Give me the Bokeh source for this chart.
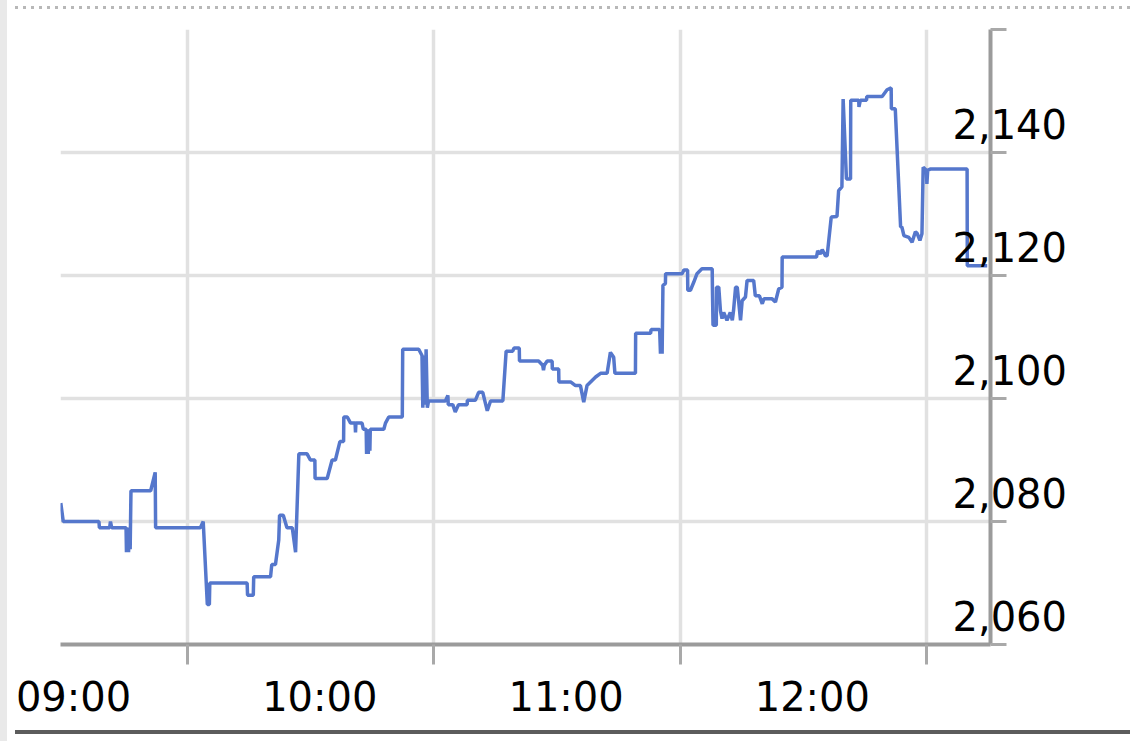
from bokeh.plotting import figure
from bokeh.models import FixedTicker, CustomJSTickFormatter, Div, Range1d
from bokeh.layouts import column, row
from bokeh.embed import file_html
from bokeh.resources import INLINE

# ---- data: minutes after 09:00 and price ----
minutes = [-0.9, -0.3, 8.4, 8.5, 11.0, 11.2, 11.5, 15.0, 15.1, 15.4, 15.6, 15.9, 16.0, 16.2,
           21.0, 22.1, 22.2, 33.1, 33.8, 34.8, 35.3, 35.4, 44.5, 44.6, 46.0, 46.1, 50.2, 50.5,
           51.4, 52.2, 52.4, 53.3, 54.2, 55.5, 56.3, 57.1, 59.1, 59.9, 61.0, 61.05, 64.0, 65.2,
           66.0, 67.1, 68.0, 68.05, 68.9, 69.7, 70.8, 70.9, 71.0, 72.5, 72.8, 73.5, 73.6, 73.9,
           74.0, 74.3, 74.4, 74.5, 77.8, 78.2, 79.0, 82.3, 82.4, 86.3, 87.1, 87.3, 87.5, 87.6,
           87.8, 87.9, 88.1, 88.4, 88.7, 92.8, 93.4, 93.5, 94.6, 95.2, 96.0, 98.1, 98.15, 100.1,
           100.9, 101.9, 103.0, 103.8, 106.8, 107.6, 109.2, 109.5, 110.8, 110.85, 115.5, 116.5,
           116.7, 116.9, 117.6, 118.8, 118.85, 120.4, 120.45, 123.3, 124.5, 125.7, 126.5, 127.3,
           129.4, 130.6, 132.2, 133.0, 133.8, 134.1, 139.1, 139.15, 142.8, 142.9, 145.0, 145.2,
           145.4, 145.6, 145.8, 146.4, 146.45, 150.5, 150.9, 151.8, 151.85, 152.5, 153.3, 154.1,
           155.3, 157.8, 157.85, 158.0, 158.8, 158.85, 159.4, 159.8, 160.2, 160.6, 161.4, 162.2,
           162.7, 163.0, 163.5, 163.9, 164.7, 165.1, 165.9, 166.3, 167.9, 168.3, 169.3, 170.0,
           170.4, 172.4, 173.2, 174.0, 174.8, 174.85, 183.2, 183.5, 184.1, 184.6, 185.4, 185.8,
           186.8, 188.2, 188.6, 189.4, 189.7, 190.5, 191.5, 191.55, 193.5, 193.55, 193.9, 195.4,
           195.45, 199.2, 200.4, 201.4, 201.45, 202.4, 203.7, 204.0, 204.5, 205.7, 206.5, 207.3,
           207.7, 208.4, 208.9, 209.2, 210.0, 210.1, 210.3, 210.9, 219.9, 219.95, 224.8]
price = [2083, 2080, 2080, 2079, 2079, 2080, 2079, 2079, 2075, 2079, 2075, 2079, 2075.5, 2085,
         2085, 2088, 2079, 2079, 2080, 2066.5, 2066.5, 2070, 2070, 2068, 2068, 2071, 2071, 2073,
         2073, 2077, 2081, 2081, 2079, 2079, 2075, 2091, 2091, 2090, 2090, 2087, 2087, 2090,
         2090, 2093, 2093, 2097, 2097, 2096, 2096, 2094.5, 2096, 2096, 2095, 2095, 2091, 2095,
         2091, 2095, 2091.5, 2095, 2095, 2096, 2097, 2097, 2108, 2108, 2107, 2098.5, 2106, 2099,
         2107, 2099, 2108, 2098.5, 2099.6, 2099.6, 2100.5, 2099, 2099, 2097.8, 2099, 2099, 2099.7, 2099.7,
         2101, 2101, 2098, 2099.6, 2099.6, 2107.7, 2107.7, 2108.2, 2108.2, 2106.1, 2106.1, 2105.4,
         2104.6, 2105.4, 2106.1, 2106.1, 2104.8, 2104.8, 2102.7, 2102.7, 2102.1, 2102.1, 2099.4, 2102.1,
         2103.5, 2104.1, 2104.1, 2107.5, 2106.7, 2104.1, 2104.1, 2110.6, 2110.6, 2111.2, 2111.2, 2107.3,
         2111, 2107.3, 2118.4, 2118.7, 2120.3, 2120.3, 2120.9, 2120.9, 2117.6, 2117.6, 2118.9, 2120.3,
         2121.1, 2121.1, 2118.1, 2111.9, 2111.9, 2118.1, 2118.1, 2114.3, 2113, 2114, 2112.7, 2114,
         2112.7, 2114.3, 2118.1, 2118.1, 2112.7, 2115.9, 2116.5, 2119.2, 2119.2, 2116.7, 2116.7, 2115.4,
         2116.2, 2116.2, 2115.7, 2117.8, 2118.1, 2123, 2123, 2124, 2123.5, 2124.2, 2123.2, 2123.2,
         2129.5, 2129.6, 2133.8, 2134.4, 2148.7, 2135.7, 2135.7, 2148.5, 2148.5, 2147.4, 2148.5, 2148.5,
         2149.1, 2149.1, 2150.2, 2150.5, 2147.1, 2147.1, 2127.9, 2127.9, 2126.5, 2126.2, 2125.4, 2127.1,
         2126.9, 2125.7, 2126.8, 2137.6, 2137.1, 2134.9, 2137.1, 2137.3, 2137.3, 2121.6, 2121.6]

x_grid_minutes = [30, 90, 150, 210]          # 09:30, 10:30, 11:30, 12:30
x_label_minutes = [0, 60, 120, 180]
x_labels = ["09:00", "10:00", "11:00", "12:00"]
y_grid = [2060, 2080, 2100, 2120, 2140, 2160]
y_label_values = [2060, 2080, 2100, 2120, 2140]
y_labels = ["2,060", "2,080", "2,100", "2,120", "2,140"]

# style offsets of the tick labels relative to their values
LABEL_SHIFT_X = 2.2
LABEL_SHIFT_Y = 4.7

FONT = "DejaVu Sans"
GRID = "#e1e1e1"
AXIS = "#9b9b9b"
TICK = "#a9a9a9"

p = figure(frame_width=930, frame_height=615,
           x_range=Range1d(-0.97, 225.6), y_range=Range1d(2060, 2160),
           x_axis_location="below", y_axis_location="right",
           min_border_left=53, min_border_top=19, min_border_bottom=78, min_border_right=140,
           output_backend="svg", toolbar_location=None)
p.outline_line_color = None
p.background_fill_color = "white"
p.border_fill_color = "white"

xticker = FixedTicker(ticks=[m + LABEL_SHIFT_X for m in x_label_minutes], minor_ticks=x_grid_minutes)
yticker = FixedTicker(ticks=[v + LABEL_SHIFT_Y for v in y_label_values], minor_ticks=y_grid)

xa = p.xaxis[0]
xa.ticker = xticker
xa.formatter = CustomJSTickFormatter(args=dict(labels=x_labels), code="return labels[index];")
xa.axis_line_color = AXIS
xa.axis_line_width = 4
xa.major_tick_line_color = None
xa.major_tick_out = 20
xa.major_tick_in = 0
xa.minor_tick_line_color = TICK
xa.minor_tick_line_width = 3
xa.minor_tick_out = 20
xa.minor_tick_in = 0
xa.major_label_standoff = 9
xa.major_label_text_font = FONT
xa.major_label_text_font_size = "40px"
xa.major_label_text_color = "black"

ya = p.yaxis[0]
ya.ticker = yticker
ya.formatter = CustomJSTickFormatter(args=dict(labels=y_labels), code="return labels[index];")
ya.axis_line_color = AXIS
ya.axis_line_width = 4
ya.major_tick_line_color = None
ya.major_tick_out = 0
ya.major_tick_in = 0
ya.minor_tick_line_color = TICK
ya.minor_tick_line_width = 3
ya.minor_tick_out = 16
ya.minor_tick_in = 0
ya.major_label_standoff = -54
ya.major_label_text_font = FONT
ya.major_label_text_font_size = "40px"
ya.major_label_text_color = "black"

p.xgrid.ticker = xticker
p.xgrid.grid_line_color = None
p.xgrid.minor_grid_line_color = GRID
p.xgrid.minor_grid_line_width = 3.5
p.ygrid.ticker = yticker
p.ygrid.grid_line_color = None
p.ygrid.minor_grid_line_color = GRID
p.ygrid.minor_grid_line_width = 3.5

p.line(minutes, price, line_color="#5577cc", line_width=3.5)

strip = Div(text='<div style="width:7px;height:741px;background:#e9e9e9"></div>',
            width=7, height=741, margin=0)
top = Div(text='<div style="width:1115px;height:10px;'
               'background-image:repeating-linear-gradient(to right,#b8b8b8 0px,#b8b8b8 3px,'
               'rgba(255,255,255,0) 3px,rgba(255,255,255,0) 8px);'
               'background-size:1115px 3px;background-position:0 4px;background-repeat:no-repeat"></div>',
          width=1115, height=10, margin=(0, 0, 0, 8))
bottom = Div(text='<div style="width:1115px;height:4px;background:#5c5c5c"></div>',
             width=1115, height=4, margin=(0, 0, 0, 8))

page = row(strip, column(top, p, bottom, spacing=0), spacing=0)

open("out.html", "w").write(file_html(page, INLINE))
